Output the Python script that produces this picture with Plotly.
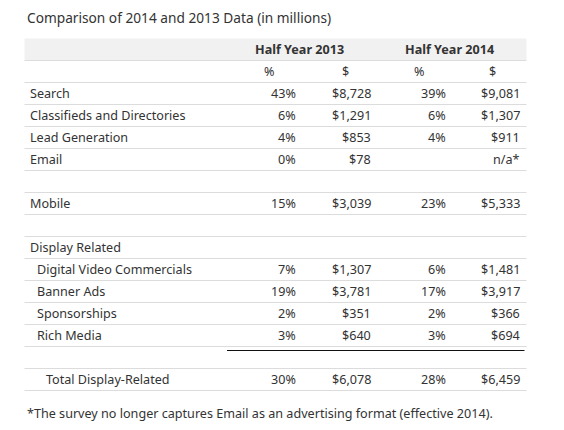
import plotly.graph_objects as go

title = "Comparison of 2014 and 2013 Data (in millions)"
group_headers = ["Half Year 2013", "Half Year 2014"]
sub_headers = ["%", "$", "%", "$"]
categories = ["Search", "Classifieds and Directories", "Lead Generation", "Email", "",
              "Mobile", "", "Display Related", "Digital Video Commercials", "Banner Ads",
              "Sponsorships", "Rich Media", "", "Total Display-Related"]
indent_level = [0, 0, 0, 0, 0, 0, 0, 0, 1, 1, 1, 1, 0, 2]
pct_2013 = ["43%", "6%", "4%", "0%", "", "15%", "", "", "7%", "19%", "2%", "3%", "", "30%"]
usd_2013 = ["$8,728", "$1,291", "$853", "$78", "", "$3,039", "", "", "$1,307", "$3,781", "$351", "$640", "", "$6,078"]
pct_2014 = ["39%", "6%", "4%", "", "", "23%", "", "", "6%", "17%", "2%", "3%", "", "28%"]
usd_2014 = ["$9,081", "$1,307", "$911", "n/a*", "", "$5,333", "", "", "$1,481", "$3,917", "$366", "$694", "", "$6,459"]
footnote = "*The survey no longer captures Email as an advertising format (effective 2014)."

W, H = 564, 430
PAD = 8  # page body margin around the plot div
FONT = "Noto Sans"
TXT = "#333333"
LINE = "#dcdcdc"
FS = 12.6
top = 38.5
rh = 22
left, right = 24.5, 526.5

def rc(i):  # row centre, i=0 header row
    return top + rh * i + rh / 2

fig = go.Figure()
ann = []
shapes = []

shapes.append(dict(type="rect", xref="x", yref="y", x0=left, x1=right, y0=top, y1=top + rh,
                   fillcolor="#f1f1f1", line=dict(width=0), layer="below"))
ann.append(dict(x=25, y=17, text=title, xanchor="left", yanchor="middle",
                font=dict(size=13.7, color="#333333", family=FONT)))
for x, t in zip([253, 403], group_headers):
    ann.append(dict(x=x, y=rc(0), text="<b>" + t + "</b>", xanchor="left", yanchor="middle",
                    font=dict(size=12.6, color="#333333", family=FONT)))
for x, t in zip([262, 340, 412, 487], sub_headers):
    ann.append(dict(x=x, y=rc(1), text=t, xanchor="left", yanchor="middle",
                    font=dict(size=FS, color=TXT, family=FONT)))

label_x = {0: 28, 1: 35, 2: 44}
value_cols = [(298, pct_2013), (373, usd_2013), (448, pct_2014), (522, usd_2014)]
n = len(categories)
for k in range(n):
    y = rc(k + 2)
    if categories[k]:
        ann.append(dict(x=label_x[indent_level[k]], y=y, text=categories[k], xanchor="left",
                        yanchor="middle", font=dict(size=FS, color=TXT, family=FONT)))
    for x, col in value_cols:
        if col[k]:
            ann.append(dict(x=x, y=y, text=col[k], xanchor="right", yanchor="middle",
                            font=dict(size=FS, color=TXT, family=FONT)))

for r in range(1, n + 3):
    yy = top + rh * r
    shapes.append(dict(type="line", xref="x", yref="y", x0=left, x1=right, y0=yy, y1=yy,
                       line=dict(color=LINE, width=1)))
yb = top + rh * n + 4
shapes.append(dict(type="line", xref="x", yref="y", x0=227, x1=524.5, y0=yb, y1=yb,
                   line=dict(color="#111111", width=1)))

ann.append(dict(x=25, y=413, text=footnote, xanchor="left", yanchor="middle",
                font=dict(size=FS, color=TXT, family=FONT)))

for a in ann:
    a.update(xref="x", yref="y", showarrow=False)

fig.update_layout(width=W - 2 * PAD, height=H - 2 * PAD, margin=dict(l=0, r=0, t=0, b=0),
                  paper_bgcolor="white", plot_bgcolor="white",
                  xaxis=dict(range=[PAD, W - PAD], visible=False, fixedrange=True),
                  yaxis=dict(range=[H - PAD, PAD], visible=False, fixedrange=True),
                  annotations=ann, shapes=shapes, showlegend=False)
fig.write_html("out.html")
